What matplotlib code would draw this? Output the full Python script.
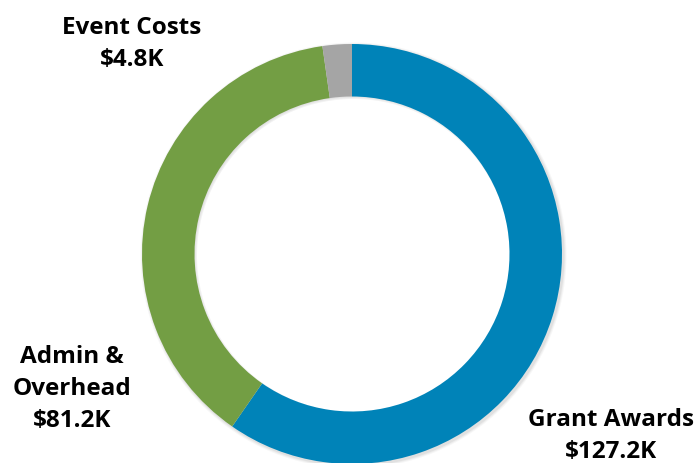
import matplotlib.pyplot as plt

categories = ["Grant Awards", "Admin &\nOverhead", "Event Costs"]
values = [127.2, 81.2, 4.8]
value_labels = ["$127.2K", "$81.2K", "$4.8K"]
colors = ["#0083B8", "#739E44", "#A5A5A5"]

W, H = 698, 464
fig = plt.figure(figsize=(W / 100, H / 100), dpi=100)
ax = fig.add_axes([0, 0, 1, 1])

cx, cy, R = 352, H - 255, 210
# faint shadow ring
for i, a in enumerate([0.05, 0.04, 0.03]):
    ax.pie([1], colors=["#000000"], center=(cx + 1.5, cy - 1.5), radius=R + 1 + i,
           frame=True, wedgeprops=dict(width=R * 0.25 + 2, linewidth=0, alpha=a))
wedges, _ = ax.pie(values, colors=colors, startangle=90, counterclock=False,
                   center=(cx, cy), radius=R, frame=True,
                   wedgeprops=dict(width=R * 0.25, linewidth=0))
ax.set_xlim(0, W)
ax.set_ylim(0, H)
ax.set_aspect("equal")
ax.axis("off")

font = dict(family="Open Sans", fontweight="bold", fontsize=17.5, color="black",
            ha="center", va="center", linespacing=1.45)
label_pos = [(611, H - 436), (72, H - 389), (132, H - 44)]
for cat, val, (x, y) in zip(categories, value_labels, label_pos):
    ax.text(x, y, f"{cat}\n{val}", **font)

fig.savefig("out.png", dpi=100)
